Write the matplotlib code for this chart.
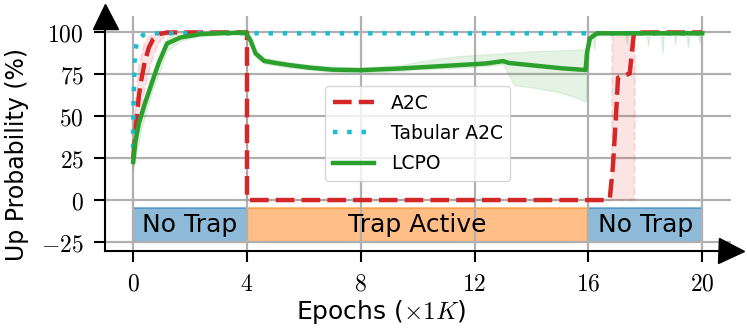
import numpy as np
import matplotlib
matplotlib.use("Agg")
import matplotlib.pyplot as plt
from matplotlib.patches import Rectangle

plt.rcParams['font.family'] = 'DejaVu Sans'
plt.rcParams['mathtext.fontset'] = 'cm'

# ---- data ----
tab_x = [0, 0.01, 0.03, 0.06, 0.14, 0.35, 0.55, 20]
tab_y = [31, 55, 72, 87, 95.5, 98.5, 99.5, 99.5]

a2c_x = [0, 0.1, 0.2, 0.3, 0.4, 0.55, 0.7, 0.9, 1.2, 4.0, 4.0, 4.1,
         16.6, 16.75, 16.86, 16.96, 17.04, 17.45, 17.6, 20]
a2c_y = [25, 45, 62, 73, 82, 91, 96, 99, 100, 100, 1, 0,
         0, 1, 20, 48, 73, 75.5, 100, 100]

a2c_band_x = [0, 0.1, 0.2, 0.4, 0.6, 0.8, 1.0, 1.3, 1.6, 4.0, 4.0,
              16.82, 16.84, 17.62, 17.64, 20]
a2c_lower = [20, 30, 45, 65, 80, 90, 96, 99, 100, 100, 0, 0, 0, 0, 100, 100]
a2c_upper = [30, 62, 80, 94, 98, 100, 100, 100, 100, 100, 0, 0, 100, 100, 100, 100]

lcpo_x = [0, 0.08, 0.2, 0.4, 0.61, 0.9, 1.19, 1.66, 2.36, 3.0,
          3.95, 4.12, 4.3, 4.6, 5.0, 5.5, 6.2, 7.0, 8.0, 9.4,
          10.8, 12.4, 13.0, 13.2, 14.25, 15.07, 15.9, 15.95, 16.05, 16.3, 20]
lcpo_y = [22.8, 35, 45.7, 57, 67.6, 82, 93.4, 97, 99, 99.5,
          100, 95.4, 87.5, 83, 81.8, 80.5, 79, 77.8, 77.5, 78.5,
          79.9, 81.5, 82.9, 81.8, 80, 78.6, 77.6, 88, 96.4, 99.5, 99.5]

lcpo_band_x = [0, 0.26, 0.61, 1.19, 1.66, 2.36, 3.95, 4.12, 4.3, 4.6,
               5.5, 7.0, 8.0, 9.4, 10.0, 10.8, 11.5, 12.4, 13.0, 13.2,
               13.4, 14.1, 14.9, 15.5, 15.9, 15.95, 16.05, 16.15, 16.2, 16.25,
               16.3, 17.3, 17.35, 17.4, 18.05, 18.1, 18.15, 18.55, 18.6, 18.65,
               19.0, 19.05, 19.1, 19.45, 19.5, 19.55, 19.85, 19.9, 19.95, 20.0]
lcpo_lower = [18, 41, 62, 89, 95, 98, 99, 93, 85.5, 81.5,
              79, 76.5, 76, 77, 78, 78.5, 79, 80, 81, 74.5,
              68.5, 67, 64.6, 61.6, 58.7, 70, 94, 98, 90, 98,
              98.5, 98.5, 93, 98.5, 98.5, 92, 98.5, 98.5, 88, 98.5,
              98.5, 93, 98.5, 98.5, 91, 98.5, 98.5, 94, 98.5, 99]
lcpo_upper = [27, 52, 73, 97, 99, 100, 100, 97.5, 89.5, 85,
              82, 79.5, 79, 80.5, 82.5, 84.5, 86, 87, 87.5, 87.8,
              88, 88.8, 89.3, 89.7, 90, 95, 99.5, 100, 100, 100,
              100, 100, 100, 100, 100, 100, 100, 100, 100, 100,
              100, 100, 100, 100, 100, 100, 100, 100, 100, 100]

phase_start = [0, 4, 16]
phase_end = [4, 16, 20]
phase_names = ['No Trap', 'Trap Active', 'No Trap']
phase_colors = ['tab:blue', 'tab:orange', 'tab:blue']

x_ticks = [0, 4, 8, 12, 16, 20]
y_ticks = [-25, 0, 25, 50, 75, 100]

# ---- figure ----
fig = plt.figure(figsize=(7.47, 3.32), dpi=100)
ax = fig.add_axes([0.1402, 0.244, 0.838, 0.7087])

red = '#d62728'
cyan = '#17becf'
green = '#2ca02c'

ax.fill_between(a2c_band_x, a2c_lower, a2c_upper, color=red, alpha=0.12,
                linestyle='--', linewidth=1.5, zorder=2)
ax.fill_between(lcpo_band_x, lcpo_lower, lcpo_upper, color=green, alpha=0.12,
                linewidth=1.0, zorder=2)

ax.plot(a2c_x, a2c_y, color=red, lw=3.2, dashes=(4.2, 1.6), label='A2C', zorder=3)
ax.plot(tab_x, tab_y, color=cyan, lw=3.2, dashes=(1, 2.2), label='Tabular A2C', zorder=3)
ax.plot(lcpo_x, lcpo_y, color=green, lw=3.2, label='LCPO', zorder=4)

# phase boxes
for s, e, name, c in zip(phase_start, phase_end, phase_names, phase_colors):
    ax.add_patch(Rectangle((s, -25), e - s, 20, facecolor=c, edgecolor=c,
                           alpha=0.5, lw=1.5, zorder=0.2))
    ax.text((s + e) / 2, -15, name, ha='center', va='center', fontsize=18, zorder=5)

ax.set_xlim(-1, 21)
ax.set_ylim(-30.4, 110)
ax.set_xticks(x_ticks)
ax.set_xticklabels(['$%d$' % t for t in x_ticks])
ax.set_yticks(y_ticks)
ax.set_yticklabels(['$%d$' % t for t in y_ticks])
ax.tick_params(direction='out', length=8, width=1.5, pad=7, labelsize=17)

ax.grid(True, color='#b0b0b0', lw=1.6)
ax.set_axisbelow(True)

for side in ['top', 'right']:
    ax.spines[side].set_visible(False)
for side in ['left', 'bottom']:
    ax.spines[side].set_linewidth(1.5)

# arrow heads on the axes
ax.plot(1, 0, '>k', ms=18, transform=ax.transAxes, clip_on=False)
ax.plot(0, 1, '^k', ms=18, transform=ax.transAxes, clip_on=False)

ax.set_ylabel('Up Probability (%)', fontsize=17)
ax.yaxis.set_label_coords(-0.121, 0.41)
ax.set_xlabel('Epochs ($\\times 1K$)', fontsize=18)
ax.xaxis.set_label_coords(0.442, -0.2)

ax.legend(loc='center', fontsize=13.5, handlelength=2.2, handletextpad=0.9,
          labelspacing=0.6)

fig.savefig('out.png', dpi=100)
